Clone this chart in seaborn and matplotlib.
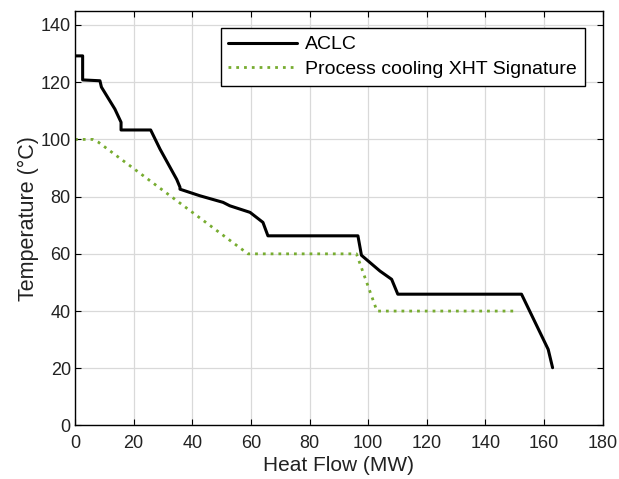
import pandas as pd
import matplotlib
matplotlib.use("Agg")
import matplotlib.pyplot as plt
import seaborn as sns

# ACLC composite curve (heat flow MW, temperature C)
aclc_q = [0, 2.6, 2.6, 8.5, 9.0, 13.6, 15.7, 15.7, 25.8, 29.0, 34.7, 35.8, 35.8,
          42.6, 50.5, 52.8, 59.7, 64.1, 65.8, 96.5, 97.7, 104.0, 108.0, 110.1,
          152.3, 161.4, 162.9]
aclc_t = [129.2, 129.2, 120.8, 120.5, 118.3, 110.6, 106.0, 103.3, 103.3, 96.6, 86.0,
          83.3, 82.6, 80.3, 78.0, 76.8, 74.5, 71.0, 66.3, 66.3, 59.5, 54.0, 51.1,
          45.9, 45.9, 26.6, 20.2]

# process cooling XHT signature
xht_q = [0, 6.0, 8.0, 59.0, 96.0, 103.0, 151.0]
xht_t = [100, 100, 99, 60, 60, 40, 40]

df_a = pd.DataFrame({'Heat Flow': aclc_q, 'Temperature': aclc_t})
df_x = pd.DataFrame({'Heat Flow': xht_q, 'Temperature': xht_t})

sns.set_style('ticks')
plt.rcParams['font.family'] = ['Liberation Sans', 'DejaVu Sans']
plt.rcParams['text.color'] = 'black'

fig = plt.figure(figsize=(6.19, 4.79), dpi=100)
ax = fig.add_axes([0.1212, 0.1117, 0.8525, 0.866])

sns.lineplot(x='Heat Flow', y='Temperature', data=df_a, sort=False, estimator=None,
             color='black', linewidth=2.2, label='ACLC', ax=ax)
sns.lineplot(x='Heat Flow', y='Temperature', data=df_x, sort=False, estimator=None,
             color='#77ac30', linewidth=2.0, linestyle=(0, (1, 1.8)),
             label='Process cooling XHT Signature', ax=ax)

ax.set_xlim(0, 180)
ax.set_ylim(0, 145)
ax.set_xticks(range(0, 181, 20))
ax.set_yticks(range(0, 141, 20))
ax.grid(True, color='#d9d9d9', linewidth=0.9)
ax.set_axisbelow(True)
for s in ax.spines.values():
    s.set_visible(True)
    s.set_color('black')
    s.set_linewidth(1.0)
ax.tick_params(direction='in', top=True, right=True, length=4, labelsize=13,
               color='black', labelcolor='#222222')
ax.tick_params(axis='x', pad=7)
ax.tick_params(axis='y', pad=3)
ax.set_xlabel('Heat Flow (MW)', fontsize=15, labelpad=3, color='#222222')
ax.set_ylabel('Temperature (°C)', fontsize=15.5, labelpad=1, color='#222222')

leg = ax.legend(loc='upper right', bbox_to_anchor=(0.966, 0.958), fontsize=14,
                frameon=True, fancybox=False, framealpha=1, edgecolor='black',
                handlelength=3.5, handletextpad=0.45, borderpad=0.4,
                labelspacing=0.35, borderaxespad=0)
leg.get_frame().set_linewidth(1.0)

fig.savefig('out.png', dpi=100)
